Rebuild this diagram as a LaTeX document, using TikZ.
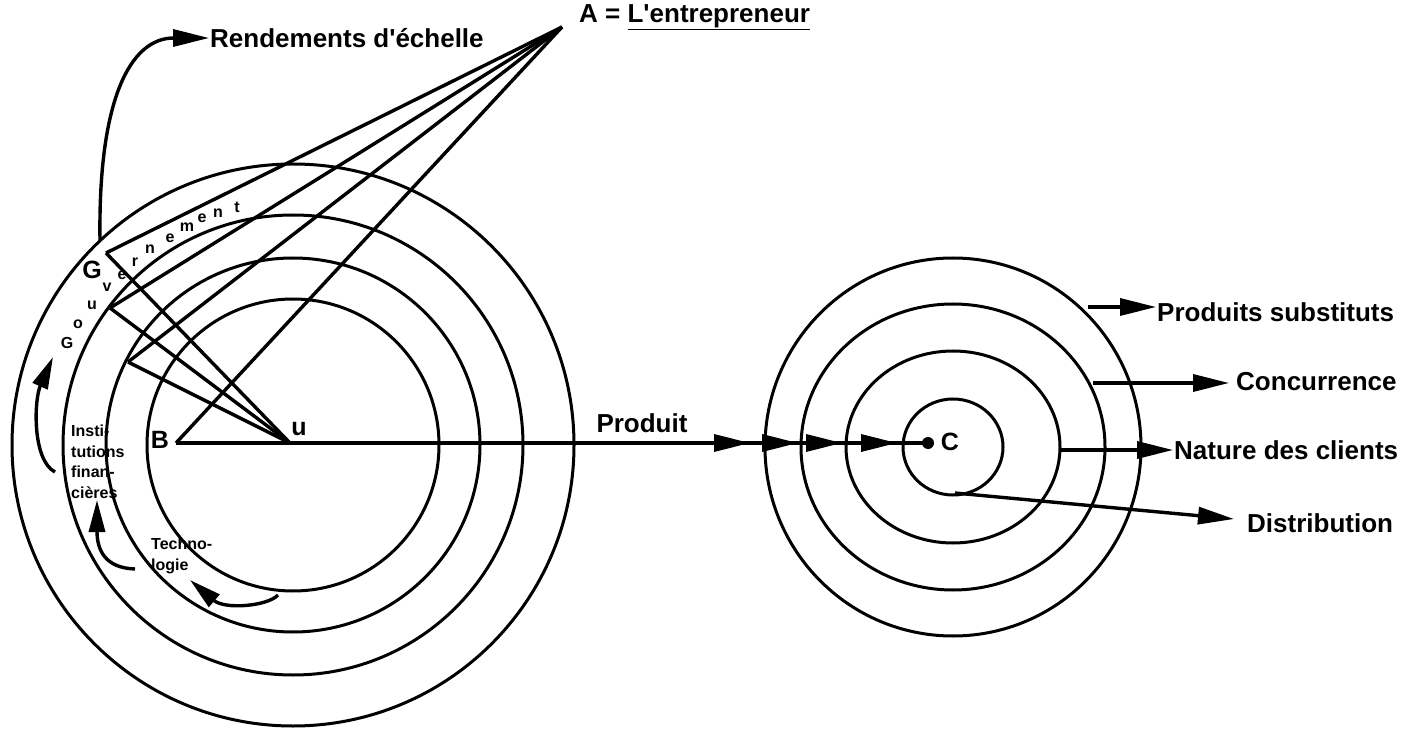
\documentclass[tikz,border=0pt]{standalone}
\usepackage{fontspec}
\setmainfont{Liberation Sans}
\usetikzlibrary{arrows.meta}

\tikzset{
  ring/.style={line width=3pt},
  ray/.style={line width=3.4pt},
  head/.style={-{Triangle[length=36pt,width=17pt]}},
  shorthead/.style={-{Triangle[length=32pt,width=16pt]}},
  big/.style={font=\bfseries\fontsize{26}{30}\selectfont,inner sep=1pt},
  letter/.style={font=\bfseries\fontsize{25}{28}\selectfont,inner sep=0pt},
  tiny/.style={font=\bfseries\fontsize{16}{18}\selectfont,inner sep=0pt},
  small/.style={font=\bfseries\fontsize{16}{20.5}\selectfont,align=left,inner sep=0pt},
}

\begin{document}
\begin{tikzpicture}[x=1pt,y=-1pt]
  \useasboundingbox (0,0) rectangle (1414,735);
  % left rings (firm) and right rings (market)
  \foreach \r in {146,187,230,281} \draw[ring] (293,445) circle[radius=\r];
  \foreach \rx/\ry in {50/48,107/96,152/143,188/189}
    \draw[ring] (953,447) ellipse[x radius=\rx,y radius=\ry];

  % points of the triangle
  \coordinate (A) at (562,27);
  \coordinate (B) at (176,443);
  \coordinate (U) at (290,443);
  \coordinate (C) at (928,443);
  \coordinate (G1) at (106,253);
  \coordinate (G2) at (110,308);
  \coordinate (G3) at (128,362);
  \foreach \g in {G1,G2,G3,B} \draw[ray] (A) -- (\g);
  \foreach \g in {G1,G2,G3} \draw[ray] (\g) -- (U);
  \draw[ray] (B) -- (C);
  \fill (C) circle[radius=6];
  \foreach \t in {750,798,842,897} \draw[ray,head] (\t-40,443) -- (\t,443);

  % letters at the points
  \node[letter] (lblB) at (160,440) {B};
  \node[letter] (lblU) at (299,429) {u};
  \node[letter] (lblC) at (950,442) {C};
  \node[letter] (lblG) at (92,270) {G};
  \node[big,anchor=west] (entr) at (578,17) {A = \underline{L\textquotesingle entrepreneur}};
  \node[big] (prod) at (642,423) {Produit};

  % Gouvernement along the outer ring
  \foreach \l/\px/\py [count=\i] in {G/67/343,o/78/324,u/92/305,v/107/287,e/122/275,r/135/262,
      n/150/249,e/170/238,m/187/227,e/202/218,n/218/213,t/237/207}
    \node[tiny] (gov\i) at (\px,\py) {\l};

  % economies of scale
  \coordinate (R0) at (100,240);
  \node[big,anchor=west] (rend) at (209,38) {Rendements d\textquotesingle échelle};
  \draw[ray,head] (R0) .. controls (98,100) and (130,38) .. (rend.west);

  % inner labels and their arrows
  \node[small,anchor=west] (inst) at (71,462) {Insti-\\tutions\\finan-\\cières};
  \node[small,anchor=west] (tech) at (151,556) {Techno-\\logie};
  \coordinate (i0) at (55,472);  \coordinate (i1) at (53,357);
  \coordinate (t0) at (135,569); \coordinate (t1) at (97,500);
  \coordinate (b0) at (278,595); \coordinate (b1) at (190,580);
  \draw[ray,shorthead] (i0) .. controls (32,460) and (34,400) .. (i1);
  \draw[ray,shorthead] (t0) .. controls (105,568) and (97,550) .. (t1);
  \draw[ray,shorthead] (b0) .. controls (268,606) and (225,610) .. (b1);

  % market forces
  \node[big,anchor=west] (subst) at (1156,312) {Produits substituts};
  \node[big,anchor=west] (conc) at (1235,382) {Concurrence};
  \node[big,anchor=west] (nat) at (1173,450) {Nature des clients};
  \node[big,anchor=west] (distr) at (1246,523) {Distribution};
  \coordinate (s0) at (1088,307);
  \coordinate (c0) at (1093,383);
  \coordinate (n0) at (1060,450);
  \coordinate (d0) at (955,493);
  \draw[ray,head] (s0) -- (s0 -| subst.west);
  \draw[ray,head] (c0) -- ([xshift=-6pt]c0 -| conc.west);
  \draw[ray,head] (n0) -- (n0 -| nat.west);
  \draw[ray,head] (d0) -- ([xshift=-12pt,yshift=4pt]distr.west);
\end{tikzpicture}
\end{document}
